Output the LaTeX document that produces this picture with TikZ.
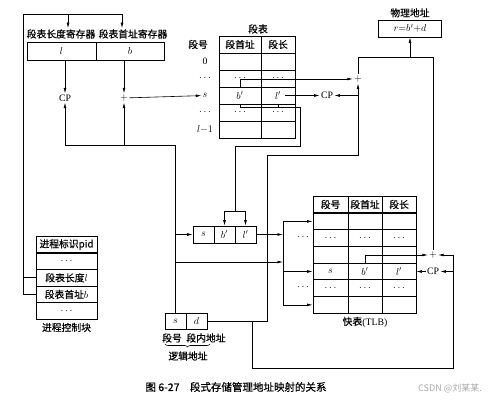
\documentclass[tikz,border=0pt]{standalone}
\usepackage{fontspec}
\setmainfont{Liberation Serif}
\newfontfamily\cjk[FakeBold=0.5]{Noto Sans CJK SC}
\newfontfamily\cjkmark{Noto Sans CJK SC}
\usetikzlibrary{arrows.meta,positioning,decorations.pathreplacing}
\definecolor{wmgray}{HTML}{A8A8A8}

\begin{document}
\begin{tikzpicture}[x=1pt, y=-1pt,
    line width=0.6pt,
    every node/.style={inner sep=1pt, font=\fontsize{9.8}{11}\selectfont},
    cell/.style={draw, line width=0.7pt, minimum height=17pt, inner sep=0pt},
    lbl/.style={font=\fontsize{9.8}{11}\selectfont\cjk},
    arr/.style={-{Latex[length=5.5pt,width=2.8pt]}}
  ]
    \useasboundingbox (0,0) rectangle (499,411);

    % registers
    \node[cell, minimum width=69pt, minimum height=18pt] (regl) at (61.5,51) {$l$};
    \node[cell, minimum width=68pt, minimum height=18pt] (regb) at (130,51) {$b$};
    \node[lbl] (lenlbl) at (61,34) {段表长度寄存器};
    \node[lbl] (baselbl) at (133,34) {段表首址寄存器};
    \node (cp1) at (65,98) {CP};
    \node (add1) at (124,98) {$+$};

    % segment table
    \node[lbl] (sttitle) at (258,29) {段表};
    \node[lbl] (stno) at (198,44.5) {段号};
    \foreach \n/\y/\ta/\tb in {h/44.5/{\cjk 段首址}/{\cjk 段长}, 1/61.5/{}/{}, 2/78.5/$\cdots$/$\cdots$,
        3/95.5/$b'$/$l'$, 4/112.5/$\cdots$/$\cdots$, 5/129.5/{}/{}}{
      \node[cell, minimum width=42pt] (st\n-b) at (240,\y) {\ta};
      \node[cell, minimum width=34pt] (st\n-l) at (278,\y) {\tb};
    }
    \node (r0) at (205,61.5) {0};
    \node (r1) at (205,78.5) {$\cdots$};
    \node (srow) at (205,95.5) {$s$};
    \node (r3) at (205,112.5) {$\cdots$};
    \node (r4) at (205,129.5) {$l{-}1$};

    \node (cp2) at (327,95.5) {CP};
    \node (add2) at (358,79) {$+$};
    \node[cell, minimum width=63pt] (phys) at (410,28.5) {$r{=}b'{+}d$};
    \node[lbl, above=1pt of phys] (physlbl) {物理地址};

    % register filled from the table
    \node[cell, minimum width=21pt] (r2s) at (203.5,234.5) {$s$};
    \node[cell, minimum width=21pt] (r2b) at (224.5,234.5) {$b'$};
    \node[cell, minimum width=21pt] (r2l) at (245.5,234.5) {$l'$};

    % TLB
    \foreach \n/\y/\ta/\tb/\tc in {h/204.5/{\cjk 段号}/{\cjk 段首址}/{\cjk 段长}, 1/221.4/{}/{}/{},
        2/238.1/$\cdots$/$\cdots$/$\cdots$, 3/254.8/{}/{}/{}, 4/271.5/$s$/$b'$/$l'$,
        5/288.2/$\cdots$/$\cdots$/$\cdots$, 6/304.9/{}/{}/{}}{
      \node[cell, minimum width=35pt, minimum height=16.7pt] (t\n-a) at (330.5,\y) {\ta};
      \node[cell, minimum width=34pt, minimum height=16.7pt] (t\n-b) at (365,\y) {\tb};
      \node[cell, minimum width=34pt, minimum height=16.7pt] (t\n-c) at (399,\y) {\tc};
    }
    \node[below=2pt of t6-b] (tlblbl) {{\cjk 快表}(TLB)};
    \node (add3) at (433,255) {$+$};
    \node (cp3) at (433,271.5) {CP};

    % process control block
    \foreach \n/\y/\tx in {1/244.5/{\cjk 进程标识pid}, 2/261.2/$\cdots$, l/277.8/{\cjk 段表长度}$l$,
        b/294.4/{\cjk 段表首址}$b$, 5/311/$\cdots$}{
      \node[cell, minimum width=61pt, minimum height=16.6pt] (pcb\n) at (66.5,\y) {\tx};
    }
    \node[lbl, below=2pt of pcb5] (pcblbl) {进程控制块};

    % logical address
    \node[cell, minimum width=21pt, minimum height=16pt] (las) at (175.5,321) {$s$};
    \node[cell, minimum width=21pt, minimum height=16pt] (lad) at (196.5,321) {$d$};
    \node[lbl] (lasl) at (172,338) {段号};
    \node[lbl] (ladl) at (206,338) {段内地址};
    \draw[decorate, decoration={brace, mirror, amplitude=3pt}] (165,344) -- (210,344);
    \node[lbl] (lalbl) at (188,356) {逻辑地址};

    \node[font=\fontsize{10.5}{12}\selectfont\cjk] (cap) at (236,387) {图 6-27\quad 段式存储管理地址映射的关系};
    \node[font=\fontsize{9}{10}\selectfont\cjkmark, text=wmgray] (wm) at (450,389) {CSDN @刘某某.};

    % PCB -> registers
    \coordinate (tl) at (23,14);
    \coordinate (tm) at (68,14);
    \coordinate (tr) at (122,14);
    \draw (pcbb.west) -| (tl) -- (tr);
    \draw (pcbl.west) -- (pcbl.west -| tl);
    \draw[arr] (tm) -- (tm |- lenlbl.north);
    \draw[arr] (tr) -- (tr |- baselbl.north);
    \draw[arr] (cp1 |- regl.south) -- (cp1);
    \draw[arr] (add1 |- regb.south) -- (add1);
    \draw[arr] (add1) -- (srow);

    % segment number s
    \coordinate (sj) at (175,145);
    \draw[arr] (las.north) -- (las.north |- sj) -| (cp1);
    \draw[arr] (add1 |- sj) -- (add1);
    \draw[arr] (las.north |- r2s) -- (r2s);
    \coordinate (sk) at (175.5,262);
    \coordinate (fork) at (283,0);
    \draw[arr] (sk) -- (sk -| fork);

    % table entry read out
    \coordinate (rj1) at (300,107);
    \coordinate (rj2) at (235,146);
    \coordinate (br) at (235,211);
    \draw (st3-b.south) |- (rj1) |- (rj2) -- (br);
    \draw (st3-l.south) -- (st3-l.south |- rj1);
    \draw[arr] (br) -| (r2b);
    \draw[arr] (br) -| (r2l);
    \draw[arr] (st3-b.north) |- (add2);
    \draw[arr] ([xshift=7pt]st3-l.center) -- (cp2);

    % into the TLB
    \draw (fork |- t1-a) -- (fork |- t6-a);
    \foreach \n in {1,4,6} \draw[arr] (fork |- t\n-a) -- (t\n-a.west);
    \draw[arr] (r2l.east) -- (fork |- r2l);
    \node (fd1) at (303,237) {$\cdots$};
    \node (fd2) at (303,287) {$\cdots$};

    % offset d
    \coordinate (dr) at (267,155);
    \draw[arr] (lad.east) -| (dr) -| (add2);
    \draw[arr] (cp2 -| add2) -- (cp2);
    \coordinate (dl) at (252,368);
    \coordinate (dre) at (453,368);
    \draw[arr] (dl |- lad.east) -- (dl) -- (dre) |- (add3);
    \draw[arr] (dre |- cp3) -- (cp3);
    \draw[arr] (t4-b.north) |- (add3);
    \draw[arr] (cp3) -- (t4-c.east);

    % physical address
    \coordinate (oj) at (358,57);
    \coordinate (oj2) at (433,57);
    \draw (add2) -- (oj) -- (oj2) -- (add3);
    \draw[arr] (phys |- oj) -- (phys);
  \end{tikzpicture}
\end{document}
